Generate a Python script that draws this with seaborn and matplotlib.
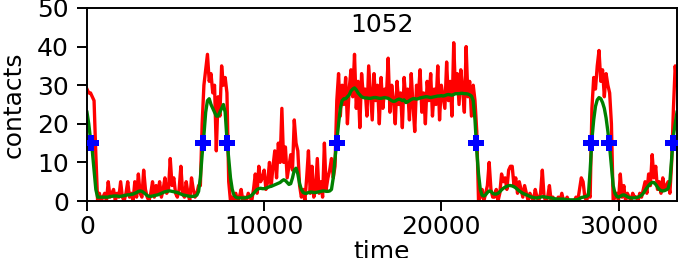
import numpy as np
import pandas as pd
import matplotlib
matplotlib.use("Agg")
import matplotlib.pyplot as plt
import seaborn as sns

time = np.arange(0, 33301, 100)

contacts = [
    29, 28, 28, 27, 26, 12, 0, 2, 0, 1,
    2, 0, 5, 1, 2, 3, 0, 2, 1, 5,
    1, 0, 2, 5, 1, 2, 0, 5, 1, 7,
    2, 1, 8, 3, 1, 0, 2, 5, 1, 4,
    2, 5, 1, 3, 6, 2, 3, 11, 4, 6,
    2, 1, 3, 9, 2, 1, 5, 2, 0, 6,
    3, 1, 2, 4, 4, 20, 30, 34, 38, 31,
    33, 28, 30, 13, 27, 22, 35, 30, 32, 28,
    5, 0, 1, 0, 2, 0, 1, 3, 0, 1,
    0, 2, 1, 0, 3, 7, 2, 9, 5, 6,
    8, 3, 5, 10, 4, 9, 13, 6, 15, 10,
    24, 10, 14, 6, 9, 12, 8, 21, 15, 13,
    4, 1, 3, 0, 6, 13, 2, 9, 1, 3,
    11, 2, 5, 1, 15, 3, 6, 8, 11, 6,
    9, 26, 33, 22, 30, 25, 32, 20, 29, 34,
    27, 38, 24, 31, 19, 33, 27, 29, 22, 35,
    28, 21, 33, 26, 30, 20, 32, 24, 29, 27,
    37, 23, 30, 26, 20, 31, 25, 28, 19, 32,
    26, 29, 21, 33, 25, 18, 30, 27, 34, 23,
    28, 20, 31, 26, 33, 22, 29, 25, 35, 21,
    30, 27, 24, 36, 26, 31, 22, 41, 28, 33,
    25, 34, 29, 23, 40, 27, 31, 22, 30, 26,
    18, 0, 1, 3, 0, 2, 4, 10, 3, 1,
    1, 3, 0, 2, 7, 5, 6, 3, 8, 9,
    9, 4, 6, 2, 5, 3, 1, 4, 2, 0,
    2, 1, 0, 3, 1, 0, 2, 8, 1, 0,
    1, 4, 0, 1, 0, 0, 1, 0, 2, 0,
    0, 1, 0, 0, 0, 0, 1, 0, 3, 6,
    5, 1, 0, 2, 1, 24, 32, 29, 35, 39,
    31, 34, 27, 33, 30, 28, 20, 0, 1, 2,
    0, 7, 1, 4, 0, 2, 1, 0, 2, 1,
    1, 0, 2, 1, 3, 5, 2, 7, 4, 12,
    6, 9, 3, 5, 2, 6, 3, 4, 5, 2,
    10, 24, 35, 30,
]

smoothed = [
    23, 20, 16, 13, 8, 3, 1, 1, 1, 1,
    1, 1, 1, 1.2, 1.2, 1.3, 1.3, 1.3, 1.2, 1.2,
    1.3, 1.4, 1.5, 1.6, 1.6, 1.7, 1.8, 2.0, 2.2, 2.5,
    2.6, 2.5, 2.2, 1.8, 1.4, 1.2, 1.2, 1.3, 1.4, 1.5,
    1.6, 1.8, 2.0, 2.2, 2.4, 2.5, 2.6, 2.6, 2.5, 2.4,
    2.3, 2.2, 2.0, 1.8, 1.6, 1.5, 1.4, 1.3, 1.2, 1.2,
    1.2, 1.3, 1.5, 2.5, 6, 12, 17, 23, 26, 26.5,
    25, 24, 23, 22, 22, 23, 24, 25, 23, 16,
    11, 6, 3, 1.5, 1, 0.8, 0.8, 0.8, 0.8, 0.8,
    0.9, 1.0, 1.2, 1.5, 2.0, 2.5, 3.0, 3.2, 3.3, 3.2,
    3.2, 3.3, 3.5, 3.7, 3.8, 4.0, 4.2, 4.4, 4.6, 4.8,
    5.2, 5.5, 5.3, 4.8, 4.3, 4.5, 6.0, 8.0, 8.5, 7.0,
    4.5, 3.0, 2.2, 2.0, 2.0, 2.2, 2.3, 2.3, 2.2, 2.2,
    2.3, 2.4, 2.5, 2.6, 2.6, 2.5, 2.5, 2.6, 3.0, 6.0,
    11, 15.5, 20, 24, 26, 26.5, 26.5, 27, 27.5, 28.5,
    29, 29.3, 28.8, 28, 27.5, 27, 26.8, 26.7, 26.7, 26.6,
    26.6, 26.7, 26.8, 26.8, 26.7, 26.6, 26.6, 26.7, 26.8, 26.7,
    26.6, 26.3, 26.0, 25.8, 25.9, 26.2, 26.4, 26.3, 26.0, 26.2,
    25.5, 25.7, 26.0, 26.3, 26.5, 26.5, 26.4, 26.5, 26.7, 26.8,
    26.9, 27.0, 27.0, 26.9, 26.8, 26.9, 27.0, 27.1, 27.2, 27.2,
    27.3, 27.2, 27.3, 27.5, 27.6, 27.5, 27.4, 27.6, 27.8, 27.8,
    27.8, 27.9, 27.9, 27.8, 27.8, 27.7, 27.5, 27.2, 26, 21,
    13, 7, 3, 1.5, 1.3, 1.6, 2.2, 2.6, 2.5, 2.0,
    1.8, 1.8, 2.0, 2.4, 2.9, 3.3, 3.6, 3.8, 4.0, 4.0,
    3.9, 3.7, 3.4, 3.0, 2.6, 2.3, 2.0, 1.8, 1.6, 1.4,
    1.2, 1.0, 0.9, 0.8, 0.8, 0.9, 1.0, 1.1, 1.1, 1.0,
    0.9, 0.8, 0.8, 0.7, 0.6, 0.5, 0.5, 0.5, 0.5, 0.5,
    0.4, 0.3, 0.3, 0.3, 0.3, 0.3, 0.3, 0.4, 0.6, 0.9,
    1.0, 1.1, 1.2, 1.5, 8, 16, 21, 24.5, 26.2, 26.8,
    26.5, 25.5, 24, 21.5, 18, 14, 9, 4, 2, 1.2,
    1.0, 1.2, 1.5, 1.6, 1.4, 1.1, 0.9, 0.8, 0.8, 0.8,
    0.9, 1.0, 1.2, 1.5, 2.0, 2.7, 3.4, 4.0, 4.5, 4.8,
    4.8, 4.3, 3.6, 3.0, 2.7, 2.6, 2.7, 2.9, 3.2, 5.0,
    11, 17, 20, 23,
]

# where the smoothed curve crosses the threshold
cross_time = [250, 6560, 7920, 14090, 21960, 28470, 29490, 33080]
cross_level = [15, 15, 15, 15, 15, 15, 15, 15]

df = pd.DataFrame({"time": time, "contacts": contacts, "smoothed": smoothed})
marks = pd.DataFrame({"time": cross_time, "level": cross_level})

plt.rcParams["font.size"] = 18
fig = plt.figure(figsize=(6.87, 2.58), dpi=100)
ax = fig.add_axes([0.1266, 0.2209, 0.8588, 0.7481])

sns.lineplot(data=df, x="time", y="contacts", color="red", linewidth=2.4,
             estimator=None, ax=ax)
sns.lineplot(data=df, x="time", y="smoothed", color="green", linewidth=2.4,
             estimator=None, ax=ax)
sns.scatterplot(data=marks, x="time", y="level", color="blue", marker="P",
                s=130, linewidth=0, zorder=5, ax=ax)

ax.set_xlim(0, 33300)
ax.set_ylim(0, 50)
ax.set_yticks([0, 10, 20, 30, 40, 50])
ax.set_xticks([0, 10000, 20000, 30000])
ax.set_xlabel("time", labelpad=1)
ax.set_ylabel("contacts", labelpad=8)
ax.text(0.5, 0.975, "1052", transform=ax.transAxes, ha="center", va="top")
for s in ax.spines.values():
    s.set_linewidth(1.4)
ax.tick_params(length=7, width=1.4)
ax.tick_params(axis="y", pad=6)
ax.tick_params(axis="x", pad=3)

fig.savefig("out.png", dpi=100)
